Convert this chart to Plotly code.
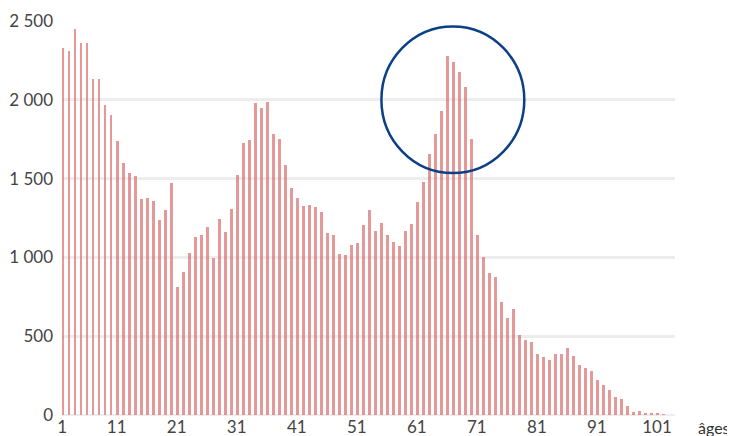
import plotly.graph_objects as go

# Ages (one bar per age) and the counts
ages = list(range(1, 102))
counts = [
    2330, 2310, 2450, 2360, 2360, 2135, 2135, 1970, 1905, 1740,
    1600, 1535, 1515, 1370, 1375, 1355, 1240, 1300, 1475, 815,
    910, 1030, 1130, 1140, 1190, 995, 1245, 1160, 1305, 1520,
    1725, 1745, 1980, 1950, 1985, 1780, 1750, 1585, 1440, 1380,
    1325, 1335, 1320, 1285, 1155, 1140, 1020, 1018, 1080, 1090,
    1205, 1300, 1170, 1220, 1145, 1095, 1070, 1165, 1210, 1350,
    1480, 1655, 1780, 1930, 2275, 2240, 2175, 2080, 1750, 1145,
    1005, 900, 875, 720, 615, 670, 508, 475, 465, 388,
    370, 350, 385, 385, 428, 375, 320, 300, 280, 225,
    192, 157, 116, 100, 57, 21, 27, 15, 11, 10,
    8,
]

x_tick_labels = ["1", "11", "21", "31", "41", "51", "61", "71", "81", "91", "101"]
y_tick_values = [0, 500, 1000, 1500, 2000, 2500]
y_tick_labels = ["0", "500", "1 000", "1 500", "2 000", "2 500"]

# tick labels in the source sit about one bar to the left of their age
x_tick_pos = [max(int(t) - 1.1, 0.85) for t in x_tick_labels]

FONT = "Lato, 'Open Sans', sans-serif"

fig = go.Figure()
fig.add_trace(go.Bar(
    x=ages, y=counts,
    width=0.42,
    marker=dict(color="rgba(218,112,112,0.72)", line=dict(width=0)),
    hoverinfo="x+y",
))

# highlight circle around the 65-70 peak
fig.add_shape(
    type="circle", xref="x", yref="y",
    x0=54.0, x1=77.8, y0=1535, y1=2465,
    line=dict(color="#0b3f86", width=2.5),
    fillcolor="rgba(0,0,0,0)", layer="above",
)

fig.add_annotation(
    text="âges", xref="paper", yref="paper",
    x=(696 - 62) / 613, y=-12 / 394,
    xanchor="left", yanchor="middle", showarrow=False,
    font=dict(family=FONT, size=16, color="#333333"),
)

# the page body adds an 8 px offset, so the figure is sized to fit the window
fig.update_layout(
    width=727, height=428,
    margin=dict(l=54, r=60, t=13, b=21, autoexpand=False),
    paper_bgcolor="white", plot_bgcolor="white",
    showlegend=False,
    bargap=0,
    font=dict(family=FONT, size=17, color="#444444"),
    xaxis=dict(
        range=[0.8, 102.9], automargin=False,
        tickmode="array", tickvals=x_tick_pos, ticktext=x_tick_labels,
        showgrid=False, zeroline=False, showline=False, ticks="",
        tickfont=dict(family=FONT, size=17, color="#444444"),
    ),
    yaxis=dict(
        range=[0, 2500], automargin=False,
        tickmode="array", tickvals=y_tick_values, ticktext=y_tick_labels,
        showgrid=True, gridcolor="#ededed", gridwidth=3,
        zeroline=True, zerolinecolor="#ededed", zerolinewidth=2,
        showline=False, ticks="", ticklabelstandoff=8,
        tickfont=dict(family=FONT, size=17, color="#444444"),
    ),
)

fig.write_html("out.html")
